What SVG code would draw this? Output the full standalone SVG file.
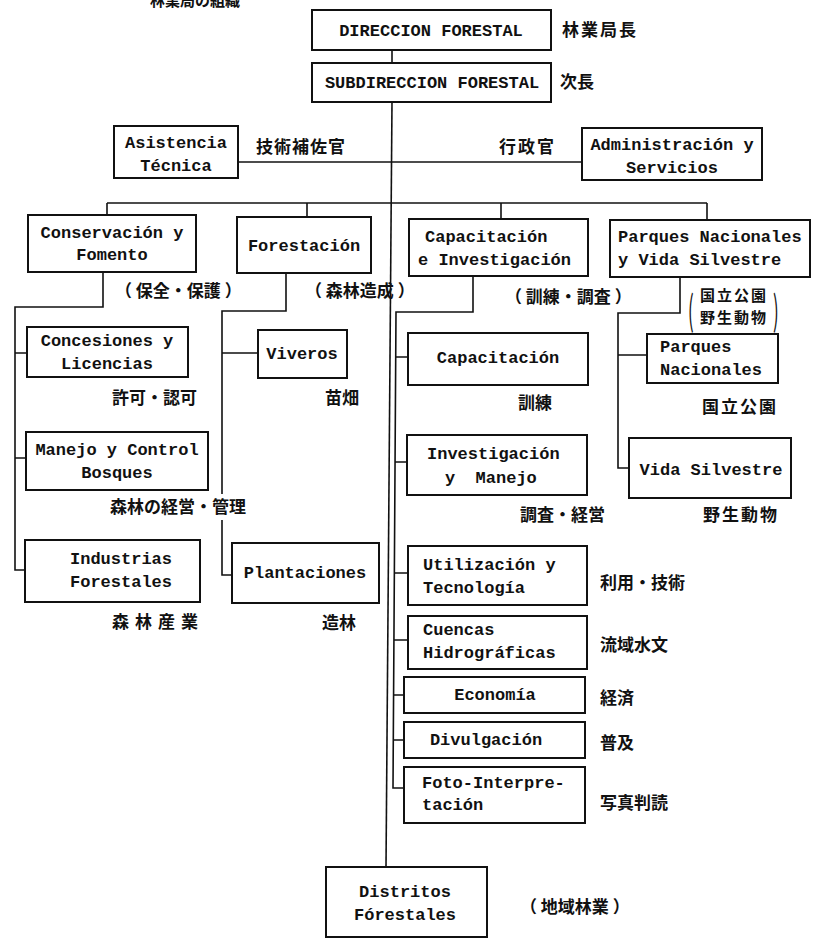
<svg xmlns="http://www.w3.org/2000/svg" width="815" height="939" viewBox="0 0 815 939">
<style>
.box{fill:#fff;stroke:#111;stroke-width:2}
.ln{fill:none;stroke:#111;stroke-width:1.6}
.t{font-family:"Liberation Mono","DejaVu Sans Mono",monospace;font-size:17px;font-weight:bold;fill:#111}
.c{text-anchor:middle}
.j{font-family:"Noto Sans CJK JP","Noto Sans CJK SC",sans-serif;font-size:17px;font-weight:bold;fill:#111}
.p{font-family:"Noto Sans CJK JP","Noto Sans CJK SC",sans-serif;font-size:40px;fill:#111}
</style>
<rect width="815" height="939" fill="#fff"/>
<text class="j" x="150" y="6" style="font-size:15px">林業局の組織</text>
<g id="connectors">
<path class="ln" d="M392,50 V63"/>
<path class="ln" d="M392,102 L386,867"/>
<path class="ln" d="M238,162 H582"/>
<path class="ln" d="M107,203 H707"/>
<path class="ln" d="M107,203 V215 M307,203 V217 M501,203 V219 M707,203 V220"/>
<path class="ln" d="M103,272 V307 H15 V570 H25 M15,353 H27 M15,458 H26"/>
<path class="ln" d="M286,273 V311 H222 V494 M222,520 V575 H232 M222,353 H258"/>
<path class="ln" d="M473,276 V312 H396 L393,788 H404 M395.7,357 H408 M395.1,462 H407 M394.4,573 H408 M393.9,640 H408 M393.6,695 H404 M393.3,740 H404"/>
<path class="ln" d="M680,277 V313 H618 V468 H629 M618,355 H647"/>
</g>
<g id="n-direccion">
<rect class="box" x="312" y="10" width="239" height="40"/>
<text class="t c" x="431" y="36">DIRECCION FORESTAL</text>
<text class="j" x="562" y="36" letter-spacing="2">林業局長</text>
</g>
<g id="n-subdireccion">
<rect class="box" x="312" y="63" width="239" height="39"/>
<text class="t c" x="432" y="88">SUBDIRECCION FORESTAL</text>
<text class="j" x="560" y="88">次長</text>
</g>
<g id="n-asistencia">
<rect class="box" x="114" y="126" width="124" height="52"/>
<text class="t c" x="176" y="148">Asistencia</text>
<text class="t c" x="176" y="171">Técnica</text>
<text class="j" x="256" y="153" letter-spacing="1">技術補佐官</text>
</g>
<g id="n-administracion">
<rect class="box" x="582" y="128" width="180" height="52"/>
<text class="t c" x="672" y="150">Administración y</text>
<text class="t c" x="672" y="173">Servicios</text>
<text class="j" x="499" y="153" letter-spacing="2">行政官</text>
</g>
<g id="n-conservacion">
<rect class="box" x="28" y="215" width="168" height="57"/>
<text class="t c" x="112" y="238">Conservación y</text>
<text class="t c" x="112" y="260">Fomento</text>
<text class="j" x="115" y="297" xml:space="preserve">（ 保全・保護 ）</text>
</g>
<g id="n-forestacion">
<rect class="box" x="237" y="217" width="134" height="56"/>
<text class="t c" x="304" y="251">Forestación</text>
<text class="j" x="305" y="297" xml:space="preserve">（ 森林造成 ）</text>
</g>
<g id="n-capacitacion-investigacion">
<rect class="box" x="409" y="219" width="179" height="57"/>
<text class="t" x="425" y="242">Capacitación</text>
<text class="t" x="418" y="265">e Investigación</text>
<text class="j" x="505" y="303" xml:space="preserve">（ 訓練・調査 ）</text>
</g>
<g id="n-parques-vida">
<rect class="box" x="610" y="220" width="200" height="57"/>
<text class="t" x="618" y="242">Parques Nacionales</text>
<text class="t" x="618" y="265">y Vida Silvestre</text>
<text class="j" style="font-size:15px" letter-spacing="2"><tspan x="700" y="301">国立公園</tspan><tspan x="700" y="323">野生動物</tspan></text>
<text class="p" x="688" y="325" transform="translate(688 0) scale(0.42 1) translate(-688 0)">(</text>
<text class="p" x="773" y="325" transform="translate(773 0) scale(0.42 1) translate(-773 0)">)</text>
</g>
<g id="n-concesiones">
<rect class="box" x="27" y="327" width="161" height="50"/>
<text class="t c" x="107" y="346">Concesiones y</text>
<text class="t c" x="107" y="369">Licencias</text>
<text class="j" x="112" y="404">許可・認可</text>
</g>
<g id="n-manejo">
<rect class="box" x="26" y="432" width="182" height="58"/>
<text class="t c" x="117" y="455">Manejo y Control</text>
<text class="t c" x="117" y="478">Bosques</text>
<text class="j" x="110" y="513">森林の経営・管理</text>
</g>
<g id="n-industrias">
<rect class="box" x="25" y="540" width="175" height="62"/>
<text class="t c" x="121" y="564">Industrias</text>
<text class="t c" x="121" y="587">Forestales</text>
<text class="j" x="112" y="628" letter-spacing="6">森林産業</text>
</g>
<g id="n-viveros">
<rect class="box" x="258" y="330" width="89" height="48"/>
<text class="t c" x="302" y="359">Viveros</text>
<text class="j" x="325" y="404">苗畑</text>
</g>
<g id="n-plantaciones">
<rect class="box" x="232" y="543" width="147" height="60"/>
<text class="t c" x="305" y="578">Plantaciones</text>
<text class="j" x="322" y="629">造林</text>
</g>
<g id="n-capacitacion">
<rect class="box" x="408" y="333" width="180" height="52"/>
<text class="t c" x="498" y="363">Capacitación</text>
<text class="j" x="518" y="409">訓練</text>
</g>
<g id="n-investigacion">
<rect class="box" x="407" y="435" width="180" height="60"/>
<text class="t" x="427" y="459">Investigación</text>
<text class="t" x="445" y="483" xml:space="preserve">y  Manejo</text>
<text class="j" x="520" y="521">調査・経営</text>
</g>
<g id="n-utilizacion">
<rect class="box" x="408" y="546" width="179" height="59"/>
<text class="t" x="423" y="570">Utilización y</text>
<text class="t" x="423" y="593">Tecnología</text>
<text class="j" x="600" y="589">利用・技術</text>
</g>
<g id="n-cuencas">
<rect class="box" x="408" y="616" width="179" height="53"/>
<text class="t" x="423" y="635">Cuencas</text>
<text class="t" x="423" y="658">Hidrográficas</text>
<text class="j" x="600" y="651">流域水文</text>
</g>
<g id="n-economia">
<rect class="box" x="404" y="677" width="181" height="36"/>
<text class="t c" x="495" y="700">Economía</text>
<text class="j" x="600" y="704">経済</text>
</g>
<g id="n-divulgacion">
<rect class="box" x="404" y="722" width="181" height="36"/>
<text class="t c" x="486" y="745">Divulgación</text>
<text class="j" x="600" y="749">普及</text>
</g>
<g id="n-foto">
<rect class="box" x="404" y="767" width="181" height="56"/>
<text class="t" x="422" y="788">Foto-Interpre-</text>
<text class="t" x="422" y="810">tación</text>
<text class="j" x="600" y="809">写真判読</text>
</g>
<g id="n-distritos">
<rect class="box" x="326" y="867" width="161" height="70"/>
<text class="t c" x="405" y="897">Distritos</text>
<text class="t c" x="405" y="920">Fórestales</text>
<text class="j" x="520" y="913" xml:space="preserve">（ 地域林業 ）</text>
</g>
<g id="n-parques-nacionales">
<rect class="box" x="647" y="334" width="131" height="49"/>
<text class="t" x="660" y="352">Parques</text>
<text class="t" x="660" y="375">Nacionales</text>
<text class="j" x="702" y="413" letter-spacing="2">国立公園</text>
</g>
<g id="n-vida-silvestre">
<rect class="box" x="629" y="438" width="162" height="60"/>
<text class="t c" x="711" y="475">Vida Silvestre</text>
<text class="j" x="703" y="521" letter-spacing="2">野生動物</text>
</g>
</svg>
